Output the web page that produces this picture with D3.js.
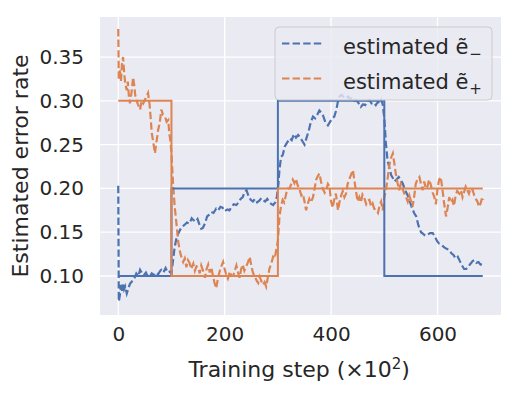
<!DOCTYPE html>
<html>
<head>
<meta charset="utf-8">
<script src="https://cdnjs.cloudflare.com/ajax/libs/d3/7.8.5/d3.min.js"></script>
<style>
  body { margin: 0; background: #fff; }
  svg text { font-family: "DejaVu Sans", sans-serif; fill: #262626; }
</style>
</head>
<body>
<div id="chart"></div>
<script>
// true (step) error rates
var trueMinusX = [0, 100, 100, 300, 300, 500, 500, 685];
var trueMinusY = [0.1, 0.1, 0.2, 0.2, 0.3, 0.3, 0.1, 0.1];
var truePlusX = [0, 100, 100, 300, 300, 685];
var truePlusY = [0.3, 0.3, 0.1, 0.1, 0.2, 0.2];

// estimated e- (blue dashed)
var estMinusX = [0,1,3,5,7,9,11,13,16,19,22,26,30,34,38,41,45,48,52,55,59,63,67,71,75,79,81,85,89,93,97,100,
  103,106,110,114,119,124,129,134,138,141,145,149,153,156,159,163,167,171,175,179,184,188,192,196,200,205,209,213,217,222,226,230,234,237,241,245,249,253,257,261,265,269,272,276,280,284,288,291,295,298,
  301,303,306,309,313,317,322,326,330,334,338,341,345,350,354,358,362,366,370,374,378,381,385,389,394,398,402,406,410,413,416,420,424,428,432,436,440,444,447,451,456,460,464,468,472,476,480,484,488,491,494,497,
  500,503,506,509,513,516,519,523,527,531,535,539,544,548,552,556,560,564,569,573,577,581,586,591,595,599,603,607,612,617,622,626,630,634,638,642,646,650,654,658,662,666,669,673,677,681,685];
var estMinusY = [0.203,0.071,0.078,0.090,0.083,0.092,0.085,0.088,0.080,0.086,0.091,0.094,0.097,0.103,0.100,0.107,0.103,0.101,0.104,0.100,0.099,0.103,0.101,0.104,0.102,0.106,0.107,0.104,0.109,0.104,0.105,0.103,
  0.118,0.133,0.145,0.150,0.156,0.158,0.161,0.160,0.166,0.164,0.162,0.165,0.158,0.154,0.155,0.160,0.168,0.170,0.173,0.172,0.177,0.175,0.179,0.178,0.174,0.176,0.175,0.179,0.182,0.181,0.184,0.188,0.190,0.195,0.198,0.191,0.187,0.185,0.188,0.184,0.186,0.189,0.187,0.185,0.188,0.184,0.182,0.181,0.184,0.190,
  0.205,0.222,0.236,0.238,0.248,0.252,0.257,0.255,0.262,0.258,0.261,0.259,0.255,0.250,0.258,0.266,0.276,0.282,0.280,0.284,0.289,0.287,0.283,0.276,0.272,0.276,0.280,0.282,0.290,0.300,0.305,0.307,0.304,0.303,0.305,0.302,0.303,0.300,0.301,0.298,0.293,0.296,0.295,0.300,0.301,0.297,0.298,0.295,0.299,0.297,0.301,0.296,
  0.280,0.252,0.232,0.225,0.215,0.212,0.208,0.210,0.213,0.210,0.205,0.198,0.192,0.185,0.178,0.172,0.168,0.158,0.150,0.148,0.146,0.147,0.149,0.149,0.145,0.140,0.137,0.136,0.133,0.131,0.130,0.126,0.124,0.120,0.122,0.117,0.112,0.108,0.108,0.111,0.114,0.117,0.118,0.115,0.116,0.113,0.114];

// estimated e+ (orange dashed)
var estPlusX = [0,1,3,5,7,9,11,13,16,18,20,22,25,28,30,32,34,37,41,44,47,50,53,56,59,61,63,66,69,71,73,75,78,81,84,88,91,94,96,98,
  100,103,106,108,111,113,117,122,125,128,131,134,137,141,144,147,150,153,156,160,163,166,169,172,175,178,181,184,187,190,193,197,200,203,206,210,213,216,219,222,225,228,231,234,237,240,244,247,250,253,256,260,263,266,269,272,275,278,281,284,288,291,294,297,
  300,303,306,309,312,316,319,322,325,328,331,334,337,341,344,347,350,353,356,359,362,366,369,372,375,378,381,384,388,391,394,397,400,403,406,409,413,416,419,422,425,428,431,434,437,441,444,447,450,453,456,459,462,466,469,472,475,478,481,484,488,491,494,497,
  500,503,506,509,512,516,519,522,525,528,531,534,537,541,544,547,550,553,556,559,562,566,569,572,575,578,581,584,587,591,594,597,600,603,606,609,612,616,619,622,625,628,631,634,637,641,644,647,650,653,656,659,662,666,669,672,675,678,681,684,686];
var estPlusY = [0.382,0.324,0.336,0.322,0.342,0.350,0.333,0.320,0.312,0.322,0.305,0.297,0.310,0.327,0.318,0.306,0.301,0.296,0.290,0.300,0.297,0.301,0.305,0.309,0.295,0.280,0.263,0.252,0.240,0.250,0.258,0.267,0.275,0.290,0.284,0.282,0.276,0.278,0.262,0.255,
  0.240,0.205,0.180,0.168,0.150,0.138,0.125,0.116,0.120,0.110,0.118,0.115,0.108,0.114,0.106,0.111,0.110,0.103,0.112,0.105,0.098,0.108,0.113,0.104,0.110,0.100,0.092,0.086,0.096,0.104,0.110,0.116,0.108,0.101,0.097,0.105,0.100,0.100,0.106,0.112,0.104,0.098,0.108,0.113,0.106,0.110,0.116,0.122,0.112,0.104,0.100,0.095,0.092,0.099,0.094,0.090,0.093,0.088,0.098,0.108,0.115,0.122,0.120,0.130,
  0.140,0.168,0.180,0.187,0.184,0.195,0.200,0.200,0.205,0.210,0.206,0.211,0.204,0.198,0.192,0.194,0.185,0.175,0.182,0.188,0.184,0.190,0.200,0.210,0.214,0.217,0.208,0.200,0.195,0.198,0.205,0.202,0.185,0.178,0.188,0.194,0.175,0.185,0.192,0.197,0.190,0.194,0.205,0.210,0.215,0.221,0.208,0.196,0.185,0.190,0.184,0.193,0.190,0.182,0.186,0.187,0.180,0.183,0.177,0.175,0.172,0.180,0.185,0.175,
  0.190,0.198,0.210,0.225,0.234,0.240,0.228,0.215,0.206,0.198,0.205,0.200,0.195,0.190,0.185,0.192,0.186,0.179,0.190,0.205,0.210,0.213,0.205,0.198,0.208,0.200,0.202,0.210,0.205,0.195,0.190,0.182,0.200,0.210,0.213,0.200,0.185,0.168,0.178,0.190,0.184,0.187,0.180,0.192,0.197,0.194,0.198,0.190,0.196,0.202,0.198,0.194,0.200,0.198,0.192,0.188,0.185,0.179,0.183,0.190,0.187];

var xTicks = [0, 200, 400, 600];
var yTicks = [0.10, 0.15, 0.20, 0.25, 0.30, 0.35];
var legendLabels = [["estimated ", "ẽ", "−"], ["estimated ", "ẽ", "+"]];

var blue = "#4c72b0", orange = "#dd8452";
var W = 518, H = 395;
var margin = { top: 17, right: 17, bottom: 80, left: 100 };
var pw = W - margin.left - margin.right;
var ph = H - margin.top - margin.bottom;

var svg = d3.select("#chart").append("svg").attr("width", W).attr("height", H);
var g = svg.append("g").attr("transform", "translate(" + margin.left + "," + margin.top + ")");

var x = d3.scaleLinear().domain([-34.3, 719.3]).range([0, pw]);
var y = d3.scaleLinear().domain([0.0555, 0.3957]).range([ph, 0]);

g.append("rect").attr("width", pw).attr("height", ph).attr("fill", "#eaeaf2");

// grid
g.selectAll(".gx").data(xTicks).enter().append("line")
    .attr("x1", function (d) { return x(d); }).attr("x2", function (d) { return x(d); })
    .attr("y1", 0).attr("y2", ph).attr("stroke", "#fff").attr("stroke-width", 1.3);
g.selectAll(".gy").data(yTicks).enter().append("line")
    .attr("y1", function (d) { return y(d); }).attr("y2", function (d) { return y(d); })
    .attr("x1", 0).attr("x2", pw).attr("stroke", "#fff").attr("stroke-width", 1.3);

// axes (labels only, seaborn style)
var xAxis = g.append("g").attr("transform", "translate(0," + ph + ")")
    .call(d3.axisBottom(x).tickValues(xTicks).tickSize(0).tickPadding(12));
xAxis.select(".domain").remove();
xAxis.selectAll("text").style("font-size", "20px").attr("fill", "#262626");

var yAxis = g.append("g")
    .call(d3.axisLeft(y).tickValues(yTicks).tickSize(0).tickPadding(16).tickFormat(d3.format(".2f")));
yAxis.select(".domain").remove();
yAxis.selectAll("text").style("font-size", "20px").attr("fill", "#262626");

var xLabel = svg.append("text").attr("x", margin.left + x(340)).attr("y", 377)
    .attr("text-anchor", "middle").style("font-size", "22px");
xLabel.append("tspan").text("Training step (×10");
xLabel.append("tspan").attr("dy", -8).style("font-size", "15px").text("2");
xLabel.append("tspan").attr("dy", 8).text(")");

svg.append("text").attr("transform", "translate(28," + (margin.top + ph / 2) + ") rotate(-90)")
    .attr("text-anchor", "middle").style("font-size", "22px").text("Estimated error rate");

// lines
g.append("clipPath").attr("id", "clip").append("rect").attr("width", pw).attr("height", ph);
var plot = g.append("g").attr("clip-path", "url(#clip)");
var line = d3.line().x(function (d) { return x(d[0]); }).y(function (d) { return y(d[1]); });
function pts(xs, ys) { return xs.map(function (v, i) { return [v, ys[i]]; }); }

plot.append("path").attr("d", line(pts(estMinusX, estMinusY))).attr("fill", "none")
    .attr("stroke", blue).attr("stroke-width", 2.2).attr("stroke-dasharray", "7.4,3.2");
plot.append("path").attr("d", line(pts(estPlusX, estPlusY))).attr("fill", "none")
    .attr("stroke", orange).attr("stroke-width", 2.2).attr("stroke-dasharray", "7.4,3.2");
plot.append("path").attr("d", line(pts(trueMinusX, trueMinusY))).attr("fill", "none")
    .attr("stroke", blue).attr("stroke-width", 2);
plot.append("path").attr("d", line(pts(truePlusX, truePlusY))).attr("fill", "none")
    .attr("stroke", orange).attr("stroke-width", 2);

// legend
var leg = svg.append("g").attr("transform", "translate(275,27)");
leg.append("rect").attr("width", 217).attr("height", 73).attr("rx", 4)
    .attr("fill", "#eaeaf2").attr("fill-opacity", 0.8).attr("stroke", "#cccccc").attr("stroke-width", 1);
var legColors = [blue, orange];
for (var i = 0; i < legendLabels.length; i++) {
    var row = leg.append("g").attr("transform", "translate(0," + (16.5 + i * 35) + ")");
    row.append("line").attr("x1", 7).attr("x2", 48).attr("y1", 0).attr("y2", 0)
        .attr("stroke", legColors[i]).attr("stroke-width", 2.2).attr("stroke-dasharray", "7.4,3.2");
    var t = row.append("text").attr("x", 68).attr("y", 10).style("font-size", "21px");
    t.append("tspan").text(legendLabels[i][0]);
    t.append("tspan").text(legendLabels[i][1]);
    t.append("tspan").attr("dx", 1).attr("dy", 5).style("font-size", "15px").text(legendLabels[i][2]);
}
</script>
</body>
</html>
